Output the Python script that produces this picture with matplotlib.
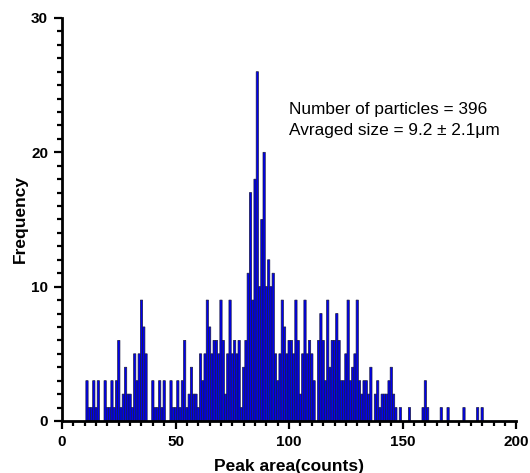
import matplotlib.pyplot as plt
from matplotlib.ticker import MultipleLocator

plt.rcParams['font.family'] = ['Liberation Sans', 'DejaVu Sans']

# Bin centres (peak area, counts) that have at least one particle, and their frequency.
area = [11, 12, 13, 14, 15, 16,
        19, 20, 21, 22, 23, 24, 25, 26, 27, 28, 29, 30,
        31, 32, 33, 34, 35, 36, 37, 40,
        41, 42, 43, 44, 45, 48, 49, 50,
        51, 52, 53, 54, 55, 56, 57, 58, 59, 60,
        61, 62, 63, 64, 65, 66, 67, 68, 69, 70,
        71, 72, 73, 74, 75, 76, 77, 78, 79, 80,
        81, 82, 83, 84, 85, 86, 87, 88, 89, 90,
        91, 92, 93, 94, 95, 96, 97, 98, 99, 100,
        101, 102, 103, 104, 105, 106, 107, 108, 109, 110,
        111, 113, 114, 115, 116, 117, 118, 119, 120,
        121, 122, 123, 124, 125, 126, 127, 128, 129, 130,
        131, 132, 133, 134, 135, 136, 138, 139, 140,
        141, 142, 143, 144, 145, 146, 147, 149,
        153, 159, 160, 161, 167, 170, 177, 183, 185]
freq = [3, 1, 1, 3, 1, 3,
        3, 1, 1, 3, 1, 3, 6, 1, 2, 4, 2, 2,
        1, 5, 3, 5, 9, 7, 5, 3,
        1, 1, 3, 1, 3, 3, 1, 1,
        3, 1, 3, 6, 1, 2, 4, 2, 2, 1,
        5, 3, 5, 9, 7, 5, 6, 6, 5, 9,
        6, 2, 5, 9, 5, 6, 5, 6, 1, 4,
        6, 11, 17, 9, 18, 26, 10, 15, 20, 10,
        12, 10, 11, 5, 3, 5, 9, 7, 5, 6,
        6, 5, 9, 6, 2, 5, 9, 5, 6, 5,
        3, 6, 8, 6, 3, 9, 4, 6, 6,
        8, 6, 3, 3, 5, 9, 3, 4, 5, 9,
        3, 2, 3, 3, 2, 4, 2, 3, 1,
        2, 2, 2, 3, 4, 2, 1, 1,
        1, 1, 3, 1, 1, 1, 1, 1, 1]

x_ticks = [0, 50, 100, 150, 200]
y_ticks = [0, 10, 20, 30]

fig = plt.figure(figsize=(5.3, 4.73), dpi=100)
ax = fig.add_axes([0.117, 0.110, 0.857, 0.852])

# no pixel snapping, so every narrow bar keeps the same dark rim + blue core
ax.bar(area, freq, width=1, color='#0000f0', edgecolor='#1a1a40',
       linewidth=0.5, snap=False)

ax.set_xlim(0, 200)
ax.set_ylim(0, 30)
ax.set_xticks(x_ticks)
ax.set_yticks(y_ticks)
ax.xaxis.set_minor_locator(MultipleLocator(5))
ax.yaxis.set_minor_locator(MultipleLocator(1))

# Prism style axes
ax.spines['top'].set_visible(False)
ax.spines['right'].set_visible(False)
ax.spines['left'].set_linewidth(2)
ax.spines['bottom'].set_linewidth(2)
ax.tick_params(which='major', length=6, width=1.6, pad=4, labelsize=11)
ax.tick_params(which='minor', length=3.5, width=1.6)
for lab in ax.get_xticklabels() + ax.get_yticklabels():
    lab.set_fontweight('bold')

ax.set_xlabel('Peak area(counts)', fontsize=12.5, fontweight='bold')
ax.xaxis.set_label_coords(0.5, -0.125)
ax.xaxis.label.set_va('baseline')
ax.set_ylabel('Frequency', fontsize=12.5, fontweight='bold')
ax.yaxis.set_label_coords(-0.075, 0.5)

ax.text(100, 22.84, 'Number of particles = 396', fontsize=12.4, va='baseline')
ax.text(100, 21.3, 'Avraged size = 9.2 ± 2.1μm', fontsize=12.4, va='baseline')

plt.savefig('out.png', dpi=100)
